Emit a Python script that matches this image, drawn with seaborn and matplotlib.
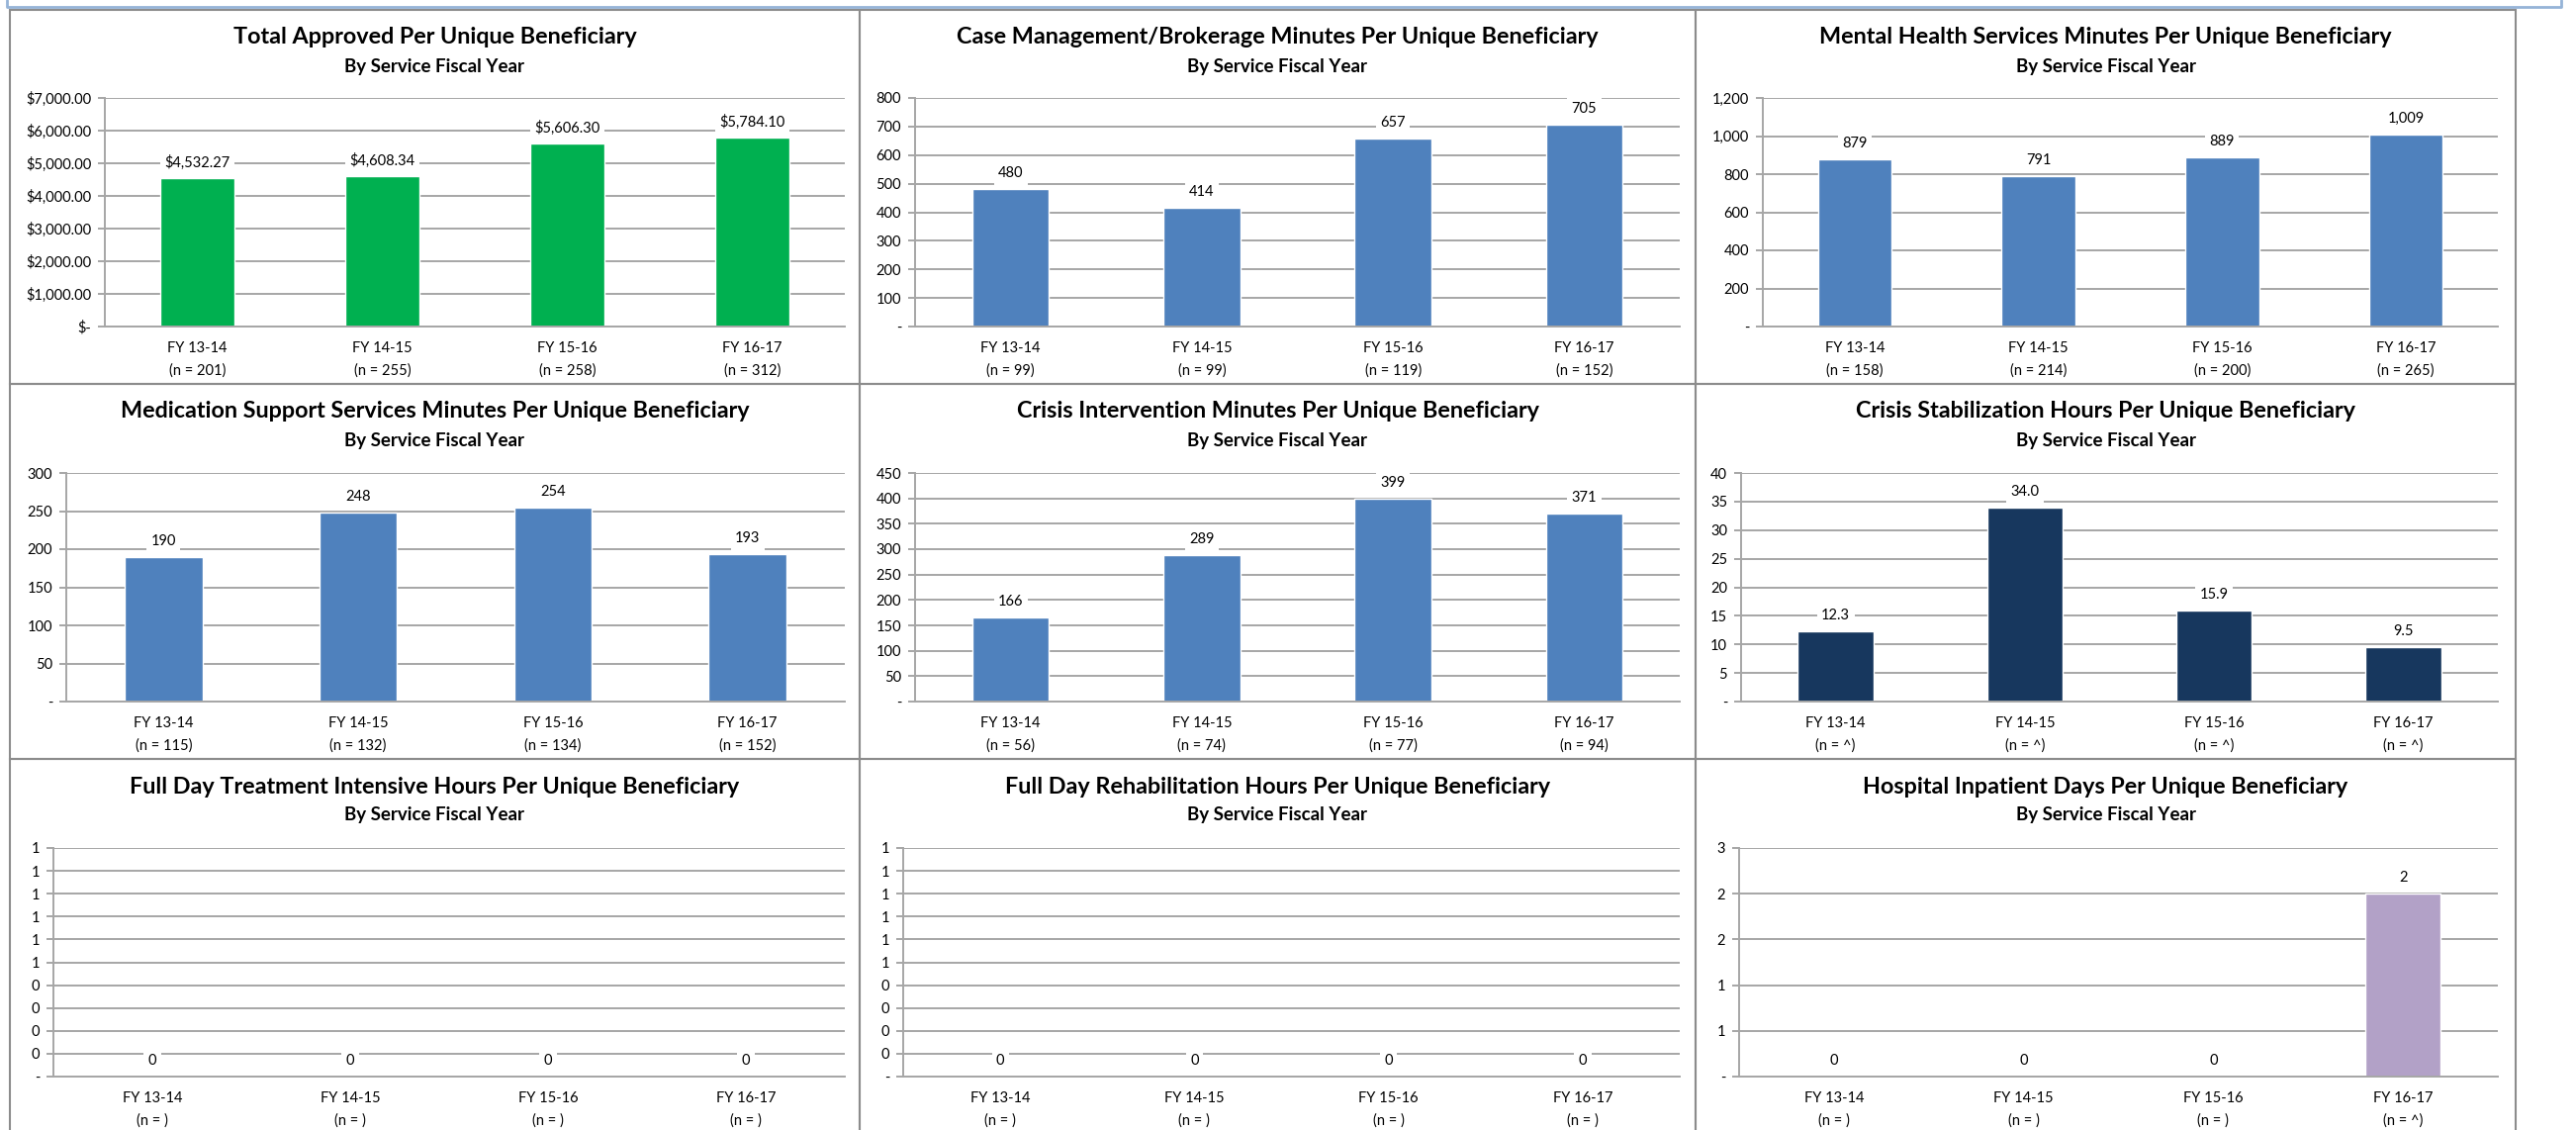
import numpy as np
import matplotlib
matplotlib.use('Agg')
import matplotlib.pyplot as plt
from matplotlib.patches import Rectangle
from matplotlib.lines import Line2D
import seaborn as sns

# values
years = ['FY 13-14', 'FY 14-15', 'FY 15-16', 'FY 16-17']

total_approved = [4532.27, 4608.34, 5606.30, 5784.10]
n_total = [201, 255, 258, 312]

case_mgmt = [480, 414, 657, 705]
n_case = [99, 99, 119, 152]

mental_health = [879, 791, 889, 1009]
n_mental = [158, 214, 200, 265]

medication = [190, 248, 254, 193]
n_med = [115, 132, 134, 152]

crisis_int = [166, 289, 399, 371]
n_crisis_int = [56, 74, 77, 94]

crisis_stab = [12.3, 34.0, 15.9, 9.5]
n_crisis_stab = ['^', '^', '^', '^']

fdt_intensive = [0, 0, 0, 0]
n_fdt = ['', '', '', '']

fd_rehab = [0, 0, 0, 0]
n_rehab = ['', '', '', '']

hospital = [0, 0, 0, 2.4]
n_hosp = ['', '', '', '^']

GREEN = '#00B050'
BLUE = '#4F81BD'
NAVY = '#17375E'
PURPLE = '#B2A1C7'
GRID = '#A6A6A6'
BORDER = '#8C8C8C'

W, H = 2604, 1142
sns.set_style('white')
plt.rcParams['font.family'] = ['Lato', 'DejaVu Sans']


def xl_round(v):
    return int(np.floor(v + 0.5 + 1e-9))


def money(v):
    return '$-' if abs(v) < 1e-9 else f'${v:,.2f}'


def intc(v):
    return '-' if abs(v) < 1e-9 else f'{xl_round(v):,}'


def lab_int(v):
    return f'{xl_round(v):,}'


panels = [
    # title, values, n, color, ymax, ystep, tick fmt, label fmt, cell, plot area
    ('Total Approved Per Unique Beneficiary', total_approved, n_total, GREEN, 7000, 1000,
     money, money, (10, 869, 10, 388), (106, 854, 99, 330)),
    ('Case Management/Brokerage Minutes Per Unique Beneficiary', case_mgmt, n_case, BLUE, 800, 100,
     intc, lab_int, (869, 1714, 10, 388), (925, 1698, 99, 330)),
    ('Mental Health Services Minutes Per Unique Beneficiary', mental_health, n_mental, BLUE, 1200, 200,
     intc, lab_int, (1714, 2543, 10, 388), (1782, 2525, 99, 330)),
    ('Medication Support Services Minutes Per Unique Beneficiary', medication, n_med, BLUE, 300, 50,
     intc, lab_int, (10, 869, 388, 767), (67, 854, 478, 709)),
    ('Crisis Intervention Minutes Per Unique Beneficiary', crisis_int, n_crisis_int, BLUE, 450, 50,
     intc, lab_int, (869, 1714, 388, 767), (925, 1698, 478, 709)),
    ('Crisis Stabilization Hours Per Unique Beneficiary', crisis_stab, n_crisis_stab, NAVY, 40, 5,
     intc, lambda v: f'{v:.1f}', (1714, 2543, 388, 767), (1760, 2525, 478, 709)),
    ('Full Day Treatment Intensive Hours Per Unique Beneficiary', fdt_intensive, n_fdt, BLUE, 1.0, 0.1,
     intc, lab_int, (10, 869, 767, 1150), (54, 854, 857, 1088)),
    ('Full Day Rehabilitation Hours Per Unique Beneficiary', fd_rehab, n_rehab, BLUE, 1.0, 0.1,
     intc, lab_int, (869, 1714, 767, 1150), (913, 1698, 857, 1088)),
    ('Hospital Inpatient Days Per Unique Beneficiary', hospital, n_hosp, PURPLE, 3.0, 0.6,
     intc, lab_int, (1714, 2543, 767, 1150), (1758, 2525, 857, 1088)),
]

fig = plt.figure(figsize=(W / 100, H / 100), dpi=100)

# light blue frame peeking in at the top
fig.add_artist(Line2D([7 / W, 7 / W, 2589 / W, 2589 / W], [1, 1 - 7 / H, 1 - 7 / H, 1],
                      color='#95B3D7', lw=2, transform=fig.transFigure))

for title, vals, ns, color, ymax, ystep, tfmt, lfmt, cell, area in panels:
    cx0, cx1, cy0, cy1 = cell
    fig.add_artist(Rectangle((cx0 / W, 1 - cy1 / H), (cx1 - cx0) / W, (cy1 - cy0) / H,
                             transform=fig.transFigure, fill=False, ec=BORDER, lw=1.5))
    xc = (cx0 + cx1) / 2 / W
    fig.text(xc, 1 - (cy0 + 28) / H, title, ha='center', va='center',
             fontsize=16.8, fontweight='bold', color='black')
    fig.text(xc, 1 - (cy0 + 57) / H, 'By Service Fiscal Year', ha='center', va='center',
             fontsize=13.5, fontweight='bold', color='black')

    x0, x1, y0, y1 = area
    ax = fig.add_axes([x0 / W, 1 - y1 / H, (x1 - x0) / W, (y1 - y0) / H])
    cats = [f'{y}\n(n = {n})' for y, n in zip(years, ns)]
    sns.barplot(x=cats, y=vals, color=color, saturation=1, width=0.4, ax=ax, zorder=2)

    ax.set_xlim(-0.5, 3.5)
    ax.set_ylim(0, ymax)
    ticks = np.round(np.arange(0, ymax + ystep / 2, ystep), 6)
    ax.set_yticks(ticks)
    ax.set_yticklabels([tfmt(t) for t in ticks])
    ax.yaxis.grid(True, color=GRID, lw=1.4)
    ax.set_axisbelow(True)
    ax.set_xlabel('')
    ax.set_ylabel('')

    for s in ['top', 'right']:
        ax.spines[s].set_visible(False)
    for s in ['left', 'bottom']:
        ax.spines[s].set_color(GRID)
        ax.spines[s].set_linewidth(1.4)

    ax.set_xticks(np.arange(-0.5, 4, 1), minor=True)
    ax.tick_params(axis='x', which='major', length=0, pad=11, labelsize=10.5, colors='black')
    ax.tick_params(axis='x', which='minor', length=5, width=1.4, color=GRID, direction='out')
    ax.tick_params(axis='y', length=5, width=1.4, color=GRID, direction='out',
                   pad=5, labelsize=10.5, labelcolor='black', left=True)
    for lbl in ax.get_xticklabels():
        lbl.set_linespacing(1.7)

    for i, v in enumerate(vals):
        ax.annotate(lfmt(v), (i, v), xytext=(0, 11.5), textcoords='offset points',
                    ha='center', va='center', fontsize=10.5, color='black', zorder=5,
                    annotation_clip=False,
                    bbox=dict(boxstyle='square,pad=0.3', fc='white', ec='none'))

fig.savefig('out.png', dpi=100, facecolor='white')
